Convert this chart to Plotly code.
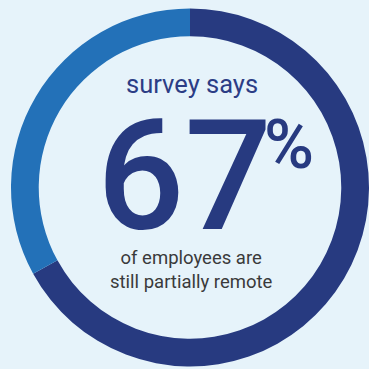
import plotly.graph_objects as go

# Survey result: share of employees still partially remote
segments = ["Partially remote", "Other"]
shares = [67, 33]
segment_colors = ["#273a80", "#2371b8"]

headline = "survey says"
big_value = "67"
big_unit = "%"
caption = "of employees are<br>still partially remote"

W = H = 369
bg = "#e6f3fa"
navy = "#273a80"
face = "Roboto, Liberation Sans, sans-serif"


def py(px):
    """Convert a pixel row (from the top) to paper y."""
    return (H - px) / H


fig = go.Figure(
    go.Pie(
        labels=segments,
        values=shares,
        sort=False,
        direction="clockwise",
        rotation=0,
        hole=0.845,
        marker=dict(colors=segment_colors, line=dict(width=0)),
        textinfo="none",
        hoverinfo="label+percent",
        showlegend=False,
        domain=dict(x=[11 / W, 1.0], y=[py(368.5), py(6.5)]),
    )
)

fig.add_annotation(
    text=headline, x=192 / W, y=py(84), xref="paper", yref="paper",
    xanchor="center", yanchor="middle", showarrow=False,
    font=dict(family=face, size=25.5, color="#2c3d85"),
)
fig.add_annotation(
    text=big_value, x=185 / W, y=py(176), xref="paper", yref="paper",
    xanchor="center", yanchor="middle", showarrow=False,
    font=dict(family=face, size=154, color=navy, weight=500),
)
fig.add_annotation(
    text=big_unit, x=289 / W, y=py(145), xref="paper", yref="paper",
    xanchor="center", yanchor="middle", showarrow=False,
    font=dict(family=face, size=68, color=navy, weight=500),
)
fig.add_annotation(
    text=caption, x=191 / W, y=py(270), xref="paper", yref="paper",
    xanchor="center", yanchor="middle", showarrow=False,
    font=dict(family=face, size=18.5, color="#3a3a3a"),
)

fig.update_layout(
    width=W, height=H,
    margin=dict(l=0, r=0, t=0, b=0),
    paper_bgcolor=bg, plot_bgcolor=bg,
)

fig.write_html("out.html")
